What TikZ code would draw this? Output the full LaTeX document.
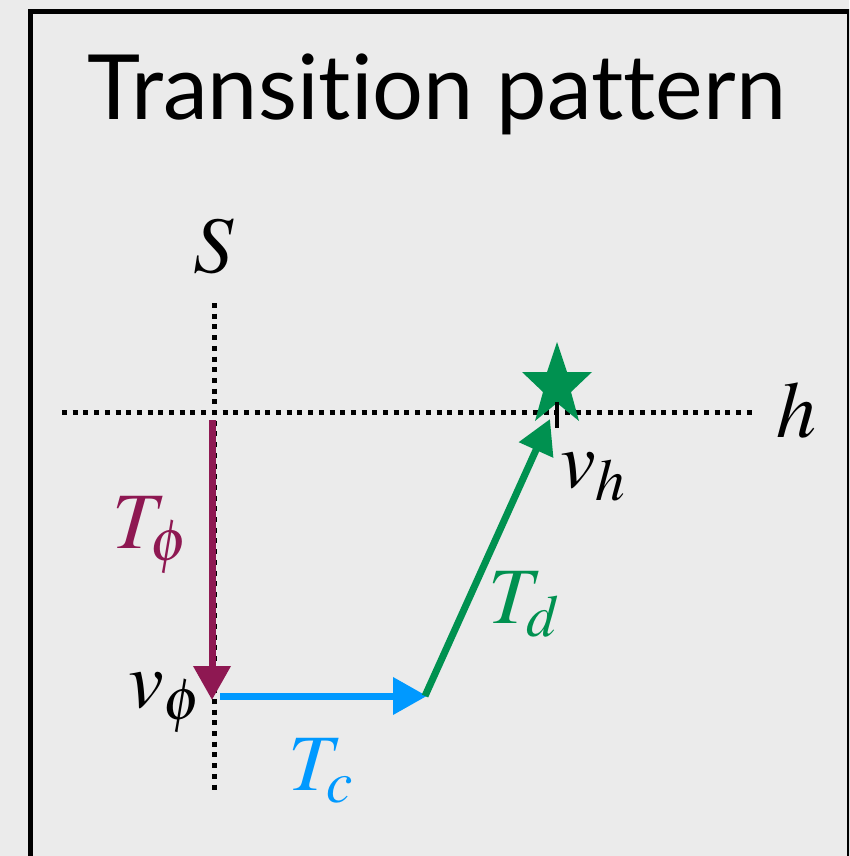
\documentclass[tikz,border=0pt]{standalone}
\usepackage{mathptmx}
\usepackage{fontspec}
\newfontfamily\titlefont[Ligatures={NoCommon,NoContextual,NoRequired}]{Lato}
\usetikzlibrary{arrows.meta}
\definecolor{bg}{RGB}{235,235,235}
\definecolor{cphi}{RGB}{142,24,82}
\definecolor{cc}{RGB}{0,153,255}
\definecolor{cd}{RGB}{0,145,80}
\tikzset{
  axisline/.style={line width=5pt, dash pattern=on 5pt off 5.7pt, black},
  trans/.style={line width=7pt, -{Triangle[length=34pt,width=36pt]}},
  mlabel/.style={inner sep=0pt, font=\fontsize{80}{96}\selectfont},
}
\begin{document}
\begin{tikzpicture}[x=1pt,y=-1pt]
\useasboundingbox (0,0) rectangle (849,856);
\clip (0,0) rectangle (849,856);
\fill[bg] (0,0) rectangle (849,856);
\draw[line width=5.5pt] (30.5,870) -- (30.5,11.5) -- (849.5,11.5) -- (849.5,870);
% title
\node[inner sep=0pt, anchor=base, font=\titlefont\fontsize{90}{100}\selectfont] (title) at (437,120) {Transition pattern};
% axes
\coordinate (stop) at (214,303);
\coordinate (sbot) at (214,790);
\coordinate (hleft) at (62,412);
\coordinate (hright) at (756,412);
\draw[axisline] (stop) -- (sbot);
\draw[axisline] (hleft) -- (hright);
\node[mlabel, anchor=base] (S) at (214,272) {$S$};
\node[mlabel, anchor=base west] (h) at (776,437) {$h$};
% star
\fill[cd] (557,342) -- (567,372) -- (592,372) -- (571,392) -- (579,421) -- (557,403) -- (535,421) -- (543,392) -- (522,372) -- (547,372) -- cycle;
\coordinate (ttop) at (557,402);
\coordinate (tbot) at (557,428);
\draw[line width=4.5pt] (ttop) -- (tbot);
% transitions
\coordinate (p0) at (212,420);
\coordinate (p1) at (212,700);
\coordinate (p2s) at (220,696);
\coordinate (p2) at (427,696);
\coordinate (p3s) at (425,696);
\coordinate (p3) at (550,419);
\draw[trans, cphi] (p0) -- (p1);
\draw[trans, cc] (p2s) -- (p2);
\draw[trans, cd] (p3s) -- (p3);
% labels
\node[mlabel, anchor=base west, text=cphi] (Tphi) at (112,548) {$T_\phi$};
\node[mlabel, anchor=base west] (vphi) at (128,707) {$v_\phi$};
\node[mlabel, anchor=base west, text=cc] (Tc) at (288,790) {$T_c$};
\node[mlabel, anchor=base west, text=cd] (Td) at (488,623) {$T_d$};
\node[mlabel, anchor=base west] (vh) at (560,487) {$v_h$};
\end{tikzpicture}
\end{document}
